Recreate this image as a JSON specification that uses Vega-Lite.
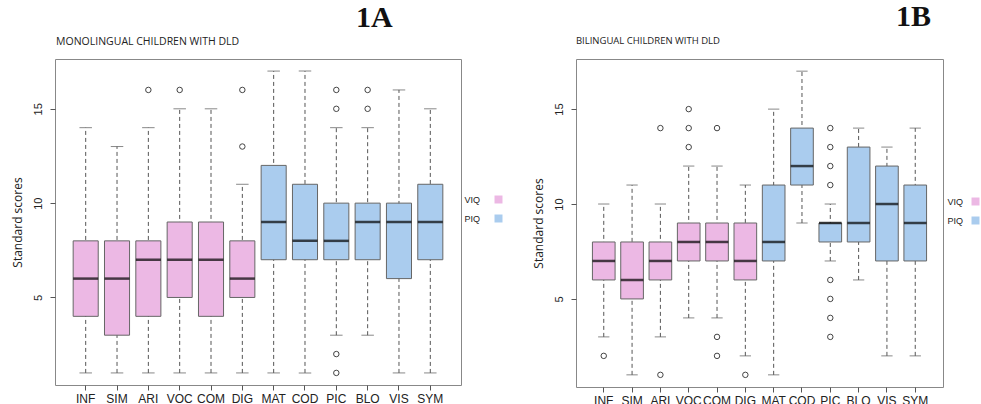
{
  "$schema": "https://vega.github.io/schema/vega-lite/v6.json",
  "padding": {"left": 10, "top": 1, "right": 0, "bottom": 0},
  "background": "white",
  "config": {
    "view": {"stroke": "#888888", "strokeWidth": 1},
    "axis": {"grid": false, "domain": false, "tickColor": "#555555", "tickSize": 5, "labelColor": "#222222", "labelFont": "Liberation Sans", "titleFont": "Open Sans", "titleFontWeight": "normal", "titleColor": "#222222"},
    "axisY": {"labelAngle": -90, "labelFontSize": 11, "labelPadding": 7, "titleFontSize": 12, "titlePadding": 8},
    "axisX": {"labelAngle": 0, "labelFontSize": 12, "labelPadding": 3},
    "title": {"font": "Liberation Serif", "fontWeight": "bold", "fontSize": 30, "color": "#111111", "anchor": "start", "frame": "group", "baseline": "alphabetic", "offset": 4}
  },
  "datasets": {
    "statsA": [
      {"test": "INF", "scale": "VIQ", "lo": 1, "q1": 4, "med": 6, "q3": 8, "hi": 14},
      {"test": "SIM", "scale": "VIQ", "lo": 1, "q1": 3, "med": 6, "q3": 8, "hi": 13},
      {"test": "ARI", "scale": "VIQ", "lo": 1, "q1": 4, "med": 7, "q3": 8, "hi": 14},
      {"test": "VOC", "scale": "VIQ", "lo": 1, "q1": 5, "med": 7, "q3": 9, "hi": 15},
      {"test": "COM", "scale": "VIQ", "lo": 1, "q1": 4, "med": 7, "q3": 9, "hi": 15},
      {"test": "DIG", "scale": "VIQ", "lo": 1, "q1": 5, "med": 6, "q3": 8, "hi": 11},
      {"test": "MAT", "scale": "PIQ", "lo": 1, "q1": 7, "med": 9, "q3": 12, "hi": 17},
      {"test": "COD", "scale": "PIQ", "lo": 1, "q1": 7, "med": 8, "q3": 11, "hi": 17},
      {"test": "PIC", "scale": "PIQ", "lo": 3, "q1": 7, "med": 8, "q3": 10, "hi": 14},
      {"test": "BLO", "scale": "PIQ", "lo": 3, "q1": 7, "med": 9, "q3": 10, "hi": 14},
      {"test": "VIS", "scale": "PIQ", "lo": 1, "q1": 6, "med": 9, "q3": 10, "hi": 16},
      {"test": "SYM", "scale": "PIQ", "lo": 1, "q1": 7, "med": 9, "q3": 11, "hi": 15}
    ],
    "outA": [
      {"test": "ARI", "v": 16},
      {"test": "VOC", "v": 16},
      {"test": "DIG", "v": 16},
      {"test": "DIG", "v": 13},
      {"test": "PIC", "v": 16},
      {"test": "PIC", "v": 15},
      {"test": "PIC", "v": 2},
      {"test": "PIC", "v": 1},
      {"test": "BLO", "v": 16},
      {"test": "BLO", "v": 15}
    ],
    "statsB": [
      {"test": "INF", "scale": "VIQ", "lo": 3, "q1": 6, "med": 7, "q3": 8, "hi": 10},
      {"test": "SIM", "scale": "VIQ", "lo": 1, "q1": 5, "med": 6, "q3": 8, "hi": 11},
      {"test": "ARI", "scale": "VIQ", "lo": 3, "q1": 6, "med": 7, "q3": 8, "hi": 10},
      {"test": "VOC", "scale": "VIQ", "lo": 4, "q1": 7, "med": 8, "q3": 9, "hi": 12},
      {"test": "COM", "scale": "VIQ", "lo": 4, "q1": 7, "med": 8, "q3": 9, "hi": 12},
      {"test": "DIG", "scale": "VIQ", "lo": 2, "q1": 6, "med": 7, "q3": 9, "hi": 11},
      {"test": "MAT", "scale": "PIQ", "lo": 1, "q1": 7, "med": 8, "q3": 11, "hi": 15},
      {"test": "COD", "scale": "PIQ", "lo": 9, "q1": 11, "med": 12, "q3": 14, "hi": 17},
      {"test": "PIC", "scale": "PIQ", "lo": 7, "q1": 8, "med": 9, "q3": 9, "hi": 10},
      {"test": "BLO", "scale": "PIQ", "lo": 6, "q1": 8, "med": 9, "q3": 13, "hi": 14},
      {"test": "VIS", "scale": "PIQ", "lo": 2, "q1": 7, "med": 10, "q3": 12, "hi": 13},
      {"test": "SYM", "scale": "PIQ", "lo": 2, "q1": 7, "med": 9, "q3": 11, "hi": 14}
    ],
    "outB": [
      {"test": "INF", "v": 2},
      {"test": "ARI", "v": 14},
      {"test": "ARI", "v": 1},
      {"test": "VOC", "v": 15},
      {"test": "VOC", "v": 14},
      {"test": "VOC", "v": 13},
      {"test": "COM", "v": 14},
      {"test": "COM", "v": 3},
      {"test": "COM", "v": 2},
      {"test": "DIG", "v": 1},
      {"test": "PIC", "v": 14},
      {"test": "PIC", "v": 13},
      {"test": "PIC", "v": 12},
      {"test": "PIC", "v": 11},
      {"test": "PIC", "v": 6},
      {"test": "PIC", "v": 5},
      {"test": "PIC", "v": 4},
      {"test": "PIC", "v": 3}
    ]
  },
  "spacing": 27,
  "resolve": {"scale": {"color": "independent"}, "legend": {"color": "independent"}},
  "hconcat": [
    {
      "width": 406,
      "height": 326,
      "title": {"text": "1A", "dx": 301},
      "encoding": {
        "x": {"field": "test", "type": "nominal", "sort": null, "title": null,
          "scale": {"domain": ["INF", "SIM", "ARI", "VOC", "COM", "DIG", "MAT", "COD", "PIC", "BLO", "VIS", "SYM"], "paddingInner": 0, "paddingOuter": 0.48}}
      },
      "layer": [
        {
          "data": {"name": "statsA"},
          "mark": {"type": "rule", "color": "#555555", "strokeDash": [4, 3], "strokeWidth": 1},
          "encoding": {
            "y": {"field": "lo", "type": "quantitative", "title": "Standard scores", "scale": {"domain": [0.36, 17.64], "nice": false, "zero": false}, "axis": {"values": [5, 10, 15]}},
            "y2": {"field": "hi"}
          }
        },
        {
          "data": {"name": "statsA"},
          "mark": {"type": "tick", "color": "#555555", "size": 12.5, "thickness": 1},
          "encoding": {"y": {"field": "hi", "type": "quantitative", "title": "Standard scores", "scale": {"domain": [0.36, 17.64], "nice": false, "zero": false}, "axis": {"values": [5, 10, 15]}}}
        },
        {
          "data": {"name": "statsA"},
          "mark": {"type": "tick", "color": "#555555", "size": 12.5, "thickness": 1},
          "encoding": {"y": {"field": "lo", "type": "quantitative", "title": "Standard scores", "scale": {"domain": [0.36, 17.64], "nice": false, "zero": false}, "axis": {"values": [5, 10, 15]}}}
        },
        {
          "data": {"name": "statsA"},
          "mark": {"type": "bar", "width": {"band": 0.8}, "stroke": "#666666", "strokeWidth": 1, "opacity": 1},
          "encoding": {
            "y": {"field": "q1", "type": "quantitative", "title": "Standard scores", "scale": {"domain": [0.36, 17.64], "nice": false, "zero": false}, "axis": {"values": [5, 10, 15]}},
            "y2": {"field": "q3"},
            "color": {"field": "scale", "type": "nominal",
              "scale": {"domain": ["VIQ", "PIQ"], "range": ["#ECB8E4", "#AACCEE"]},
              "legend": {"title": null, "orient": "none", "legendX": 439, "legendY": 136, "direction": "vertical",
                "symbolType": "square", "symbolSize": 64, "symbolStrokeWidth": 0, "symbolOpacity": 1,
                "labelFont": "Liberation Sans", "labelFontSize": 9, "labelColor": "#222222",
                "labelAlign": "right", "labelOffset": -23, "rowPadding": 9, "padding": 0}}
          }
        },
        {
          "data": {"name": "statsA"},
          "mark": {"type": "tick", "color": "#000000", "size": 25, "thickness": 2.5},
          "encoding": {"y": {"field": "med", "type": "quantitative", "title": "Standard scores", "scale": {"domain": [0.36, 17.64], "nice": false, "zero": false}, "axis": {"values": [5, 10, 15]}}}
        },
        {
          "data": {"name": "outA"},
          "mark": {"type": "point", "shape": "circle", "filled": false, "stroke": "#444444", "strokeWidth": 1, "size": 30, "opacity": 1},
          "encoding": {"y": {"field": "v", "type": "quantitative", "title": "Standard scores", "scale": {"domain": [0.36, 17.64], "nice": false, "zero": false}, "axis": {"values": [5, 10, 15]}}}
        },
        {
          "data": {"values": [{"label": "MONOLINGUAL CHILDREN WITH DLD"}]},
          "mark": {"type": "text", "font": "Open Sans", "fontSize": 10.5, "color": "#222222", "baseline": "alphabetic", "align": "left", "dx": -29.6},
          "encoding": {
            "x": {"datum": "INF"},
            "y": {"datum": 18.38, "type": "quantitative", "title": "Standard scores", "scale": {"domain": [0.36, 17.64], "nice": false, "zero": false}, "axis": {"values": [5, 10, 15]}},
            "text": {"field": "label"}
          }
        }
      ]
    },
    {
      "width": 367,
      "height": 328,
      "title": {"text": "1B", "dx": 320},
      "encoding": {
        "x": {"field": "test", "type": "nominal", "sort": null, "title": null,
          "scale": {"domain": ["INF", "SIM", "ARI", "VOC", "COM", "DIG", "MAT", "COD", "PIC", "BLO", "VIS", "SYM"], "paddingInner": 0, "paddingOuter": 0.48}}
      },
      "layer": [
        {
          "data": {"name": "statsB"},
          "mark": {"type": "rule", "color": "#555555", "strokeDash": [4, 3], "strokeWidth": 1},
          "encoding": {
            "y": {"field": "lo", "type": "quantitative", "title": "Standard scores", "scale": {"domain": [0.36, 17.64], "nice": false, "zero": false}, "axis": {"values": [5, 10, 15]}},
            "y2": {"field": "hi"}
          }
        },
        {
          "data": {"name": "statsB"},
          "mark": {"type": "tick", "color": "#555555", "size": 11.3, "thickness": 1},
          "encoding": {"y": {"field": "hi", "type": "quantitative", "title": "Standard scores", "scale": {"domain": [0.36, 17.64], "nice": false, "zero": false}, "axis": {"values": [5, 10, 15]}}}
        },
        {
          "data": {"name": "statsB"},
          "mark": {"type": "tick", "color": "#555555", "size": 11.3, "thickness": 1},
          "encoding": {"y": {"field": "lo", "type": "quantitative", "title": "Standard scores", "scale": {"domain": [0.36, 17.64], "nice": false, "zero": false}, "axis": {"values": [5, 10, 15]}}}
        },
        {
          "data": {"name": "statsB"},
          "mark": {"type": "bar", "width": {"band": 0.8}, "stroke": "#666666", "strokeWidth": 1, "opacity": 1},
          "encoding": {
            "y": {"field": "q1", "type": "quantitative", "title": "Standard scores", "scale": {"domain": [0.36, 17.64], "nice": false, "zero": false}, "axis": {"values": [5, 10, 15]}},
            "y2": {"field": "q3"},
            "color": {"field": "scale", "type": "nominal",
              "scale": {"domain": ["VIQ", "PIQ"], "range": ["#ECB8E4", "#AACCEE"]},
              "legend": {"title": null, "orient": "none", "legendX": 395, "legendY": 138, "direction": "vertical",
                "symbolType": "square", "symbolSize": 64, "symbolStrokeWidth": 0, "symbolOpacity": 1,
                "labelFont": "Liberation Sans", "labelFontSize": 9, "labelColor": "#222222",
                "labelAlign": "right", "labelOffset": -17, "rowPadding": 9, "padding": 0}}
          }
        },
        {
          "data": {"name": "statsB"},
          "mark": {"type": "tick", "color": "#000000", "size": 22.6, "thickness": 2.5},
          "encoding": {"y": {"field": "med", "type": "quantitative", "title": "Standard scores", "scale": {"domain": [0.36, 17.64], "nice": false, "zero": false}, "axis": {"values": [5, 10, 15]}}}
        },
        {
          "data": {"name": "outB"},
          "mark": {"type": "point", "shape": "circle", "filled": false, "stroke": "#444444", "strokeWidth": 1, "size": 30, "opacity": 1},
          "encoding": {"y": {"field": "v", "type": "quantitative", "title": "Standard scores", "scale": {"domain": [0.36, 17.64], "nice": false, "zero": false}, "axis": {"values": [5, 10, 15]}}}
        },
        {
          "data": {"values": [{"label": "BILINGUAL CHILDREN WITH DLD"}]},
          "mark": {"type": "text", "font": "Open Sans", "fontSize": 9.5, "color": "#222222", "baseline": "alphabetic", "align": "left", "dx": -27.8},
          "encoding": {
            "x": {"datum": "INF"},
            "y": {"datum": 18.42, "type": "quantitative", "title": "Standard scores", "scale": {"domain": [0.36, 17.64], "nice": false, "zero": false}, "axis": {"values": [5, 10, 15]}},
            "text": {"field": "label"}
          }
        }
      ]
    }
  ]
}
